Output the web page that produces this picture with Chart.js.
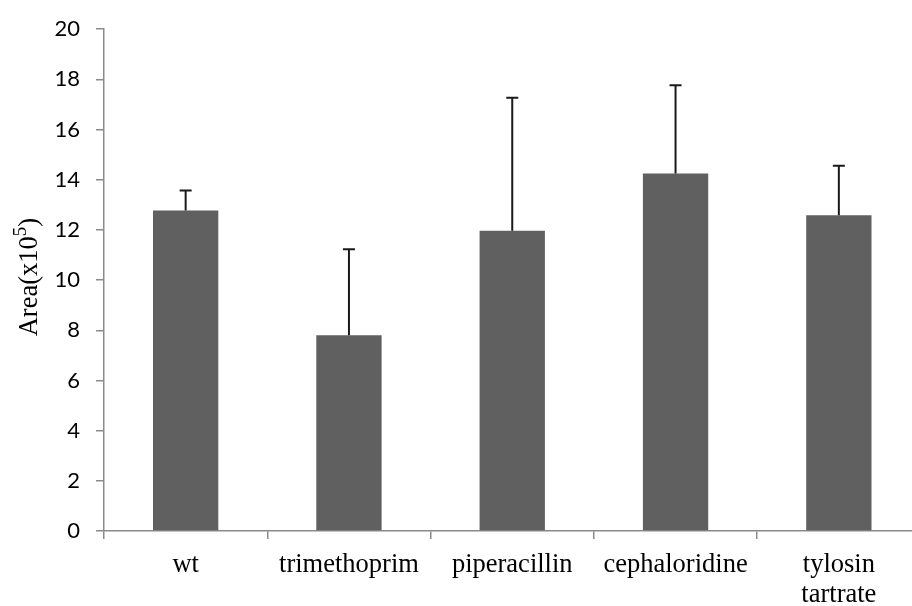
<!DOCTYPE html>
<html>
<head>
<meta charset="utf-8">
<script src="https://cdn.jsdelivr.net/npm/chart.js@4/dist/chart.umd.min.js"></script>
<style>
  html, body { margin: 0; padding: 0; background: #ffffff; }
  canvas { display: block; }
</style>
</head>
<body>
<canvas id="chart" width="912" height="606"></canvas>
<script>
// Treatment groups along the x axis
const categories = ['wt', 'trimethoprim', 'piperacillin', 'cephaloridine', ['tylosin', 'tartrate']];
// Mean area for each group, in units of 10^5
const meanArea = [12.77, 7.80, 11.97, 14.25, 12.58];
// Upper error (standard deviation) for each group, same units
const upperError = [0.80, 3.43, 5.30, 3.52, 1.98];
// Y axis range and step
const yMin = 0;
const yMax = 20;
const yStep = 2;

const AXIS_GREY = '#8a8a8a';
const SERIF = "'Liberation Serif', 'Times New Roman', serif";

// The category axis runs a little past the right edge of the canvas
const extendXAxis = {
  id: 'extendXAxis',
  afterLayout(chart) {
    const xs = chart.scales.x;
    xs.right = 920.5;
    xs.width = xs.right - xs.left;
    xs.configure();
  }
};

// Upper-only error bars with a short cap, drawn over each bar
const errorBarPlugin = {
  id: 'errorBars',
  afterDatasetsDraw(chart) {
    const meta = chart.getDatasetMeta(0);
    const yScale = chart.scales.y;
    const ctx = chart.ctx;
    ctx.save();
    ctx.strokeStyle = '#1a1a1a';
    ctx.lineWidth = 2;
    meta.data.forEach((bar, i) => {
      const x = bar.x;
      const yBar = yScale.getPixelForValue(meanArea[i]);
      const yTop = yScale.getPixelForValue(meanArea[i] + upperError[i]);
      ctx.beginPath();
      ctx.moveTo(x, yBar);
      ctx.lineTo(x, yTop);
      ctx.moveTo(x - 6, yTop);
      ctx.lineTo(x + 6, yTop);
      ctx.stroke();
    });
    ctx.restore();
  }
};

// Rotated y axis title with a raised exponent
const yTitlePlugin = {
  id: 'yTitle',
  afterDraw(chart) {
    const ctx = chart.ctx;
    const area = chart.chartArea;
    const main = '26.5px ' + SERIF;
    const sup = '19px ' + SERIF;
    const parts = [
      { text: 'Area(x10', font: main, rise: 0 },
      { text: '5', font: sup, rise: 11 },
      { text: ')', font: main, rise: 0 }
    ];
    ctx.save();
    let total = 0;
    parts.forEach(p => { ctx.font = p.font; p.w = ctx.measureText(p.text).width; total += p.w; });
    ctx.translate(37, (area.top + area.bottom) / 2 - 3);
    ctx.rotate(-Math.PI / 2);
    ctx.fillStyle = '#000000';
    ctx.textBaseline = 'alphabetic';
    ctx.textAlign = 'left';
    let x = -total / 2;
    parts.forEach(p => {
      ctx.font = p.font;
      ctx.fillText(p.text, x, -p.rise);
      x += p.w;
    });
    ctx.restore();
  }
};

const whiteBackground = {
  id: 'whiteBackground',
  beforeDraw(chart) {
    const ctx = chart.ctx;
    ctx.save();
    ctx.fillStyle = '#ffffff';
    ctx.fillRect(0, 0, chart.width, chart.height);
    ctx.restore();
  }
};

new Chart(document.getElementById('chart'), {
  type: 'bar',
  data: {
    labels: categories,
    datasets: [{
      data: meanArea,
      backgroundColor: '#606060',
      borderWidth: 0,
      barPercentage: 0.4,
      categoryPercentage: 1.0
    }]
  },
  options: {
    responsive: false,
    animation: false,
    devicePixelRatio: 1,
    layout: { padding: { top: 24, right: 0, bottom: 0, left: 0 } },
    plugins: {
      legend: { display: false },
      tooltip: { enabled: false },
      title: { display: false }
    },
    scales: {
      x: {
        grid: {
          display: true,
          offset: true,
          drawOnChartArea: false,
          drawTicks: true,
          tickLength: 8,
          color: AXIS_GREY,
          lineWidth: 1.5
        },
        border: { display: true, color: AXIS_GREY, width: 1.5 },
        ticks: {
          color: '#000000',
          font: { family: SERIF, size: 26.5, lineHeight: 1.13 },
          padding: 11,
          maxRotation: 0,
          autoSkip: false
        },
        afterFit(scale) { scale.height = 75; }
      },
      y: {
        min: yMin,
        max: yMax,
        ticks: {
          stepSize: yStep,
          color: '#000000',
          font: { family: 'Lato', size: 22 },
          padding: 16
        },
        grid: {
          display: true,
          drawOnChartArea: false,
          drawTicks: true,
          tickLength: 8,
          color: AXIS_GREY,
          lineWidth: 1.5
        },
        border: { display: true, color: AXIS_GREY, width: 1.5 },
        afterFit(scale) { scale.width = 104; }
      }
    }
  },
  plugins: [whiteBackground, extendXAxis, errorBarPlugin, yTitlePlugin]
});
</script>
</body>
</html>
